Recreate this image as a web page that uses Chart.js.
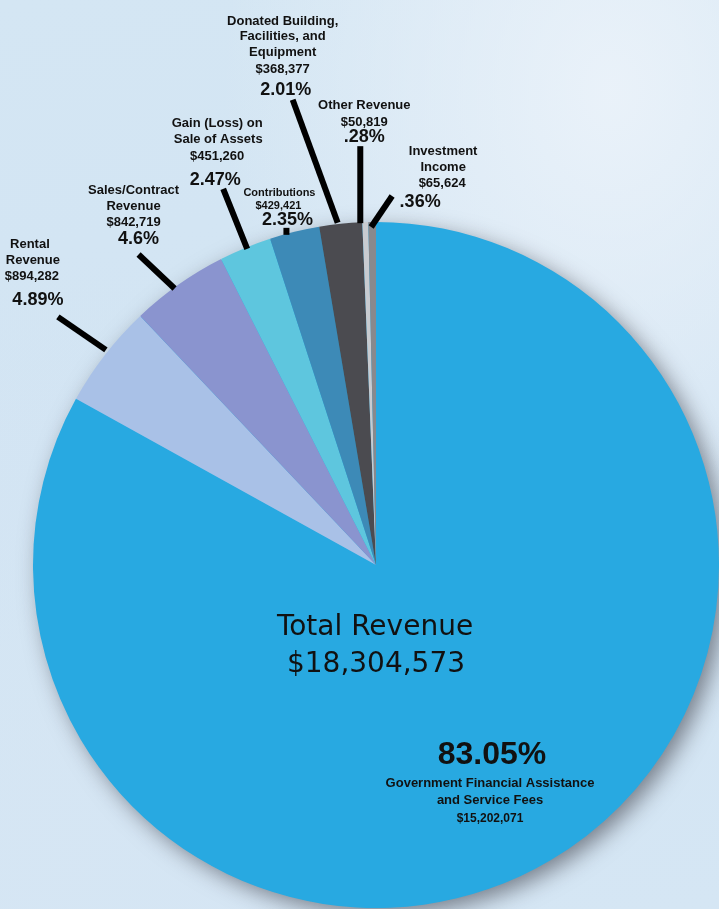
<!DOCTYPE html>
<html>
<head>
<meta charset="utf-8">
<script src="https://cdn.jsdelivr.net/npm/chart.js@4.4.1/dist/chart.umd.min.js"></script>
<style>
  html, body { margin: 0; padding: 0; }
  body {
    width: 719px; height: 909px; overflow: hidden;
    background:
      radial-gradient(ellipse at 85% 10%, rgba(236,243,250,0.9) 0%, rgba(236,243,250,0) 45%),
      radial-gradient(ellipse at 10% 95%, rgba(214,230,244,0.8) 0%, rgba(214,230,244,0) 50%),
      linear-gradient(170deg, #d4e6f3 0%, #d2e4f3 50%, #d5e6f4 100%);
  }
  canvas { display: block; }
</style>
</head>
<body>
<canvas id="c" width="719" height="909"></canvas>
<script>
// ---- data ----
const categories = [
  "Government Financial Assistance and Service Fees",
  "Rental Revenue",
  "Sales/Contract Revenue",
  "Gain (Loss) on Sale of Assets",
  "Contributions",
  "Donated Building, Facilities, and Equipment",
  "Other Revenue",
  "Investment Income"
];
const values = [15202071, 894282, 842719, 451260, 429421, 368377, 50819, 65624];
const percentLabels = ["83.05%", "4.89%", "4.6%", "2.47%", "2.35%", "2.01%", ".28%", ".36%"];
const amountLabels = ["$15,202,071", "$894,282", "$842,719", "$451,260", "$429,421", "$368,377", "$50,819", "$65,624"];
const nameLines = [
  ["Government Financial Assistance", "and Service Fees"],
  ["Rental", "Revenue"],
  ["Sales/Contract", "Revenue"],
  ["Gain (Loss) on", "Sale of Assets"],
  ["Contributions"],
  ["Donated Building,", "Facilities, and", "Equipment"],
  ["Other Revenue"],
  ["Investment", "Income"]
];
const totalTitle = "Total Revenue";
const totalAmount = "$18,304,573";
const colors = ["#28a9e1", "#a9c1e7", "#8a94cf", "#5ec6de", "#3d8ab7", "#4b4b50", "#c8cbd0", "#88898d"];

// ---- layout (label placement relative to each slice's outer-edge anchor) ----
const F = "'Liberation Sans', Arial, Helvetica, sans-serif";
const labelLayout = [
  null,
  { line: [1, -5, -47, -38], texts: [[-75, -110, 13], [-72, -94, 13], [-73, -78, 13], [-67, -55, 18]] },
  { line: [-4, 4, -40, -30], texts: [[-45, -94, 13], [-45, -78, 13], [-45, -62, 13], [-40, -45, 18]] },
  { line: [2, 1, -22, -59], texts: [[-28, -125, 13], [-27, -109, 13], [-28, -92, 13], [-30, -68, 18]] },
  { line: [-8, 3, -8, -4], texts: [[-15, -39, 11], [-16, -26, 11], [-7, -12, 18]] },
  { line: [-3, -1, -48, -124], texts: [[-58, -202, 13], [-58, -187, 13], [-58, -171, 13], [-58, -154, 13], [-55, -134, 18]] },
  { line: [-5, 1, -5, -76], texts: [[-1, -117, 13], [-1, -100, 13], [-1, -85, 18]] },
  { line: [-1, 5, 20, -26], texts: [[71, -71, 13], [71, -55, 13], [70, -39, 13], [48, -20, 18]] }
];

const shadowPlugin = {
  id: 'pieShadow',
  beforeDatasetsDraw(chart) {
    const arc = chart.getDatasetMeta(0).data[0];
    if (!arc) return;
    const ctx = chart.ctx;
    ctx.save();
    ctx.shadowColor = 'rgba(40,40,50,0.55)';
    ctx.shadowBlur = 22;
    ctx.shadowOffsetX = 7;
    ctx.shadowOffsetY = 7;
    ctx.fillStyle = colors[0];
    ctx.beginPath();
    ctx.arc(arc.x, arc.y, arc.outerRadius - 1, 0, Math.PI * 2);
    ctx.fill();
    ctx.restore();
  }
};

const labelPlugin = {
  id: 'pieLabels',
  afterDatasetsDraw(chart) {
    const meta = chart.getDatasetMeta(0);
    const ctx = chart.ctx;
    ctx.save();
    ctx.textAlign = 'center';
    ctx.textBaseline = 'middle';
    ctx.fillStyle = '#111';
    meta.data.forEach((arc, i) => {
      const lay = labelLayout[i];
      if (!lay) return;
      const mid = (arc.startAngle + arc.endAngle) / 2;
      const ax = arc.x + Math.cos(mid) * arc.outerRadius;
      const ay = arc.y + Math.sin(mid) * arc.outerRadius;
      ctx.strokeStyle = '#000';
      ctx.lineWidth = 6;
      ctx.lineCap = 'butt';
      ctx.beginPath();
      ctx.moveTo(ax + lay.line[0], ay + lay.line[1]);
      ctx.lineTo(ax + lay.line[2], ay + lay.line[3]);
      ctx.stroke();
      const strs = nameLines[i].concat([amountLabels[i], percentLabels[i]]);
      strs.forEach((s, k) => {
        const t = lay.texts[k];
        ctx.font = 'bold ' + t[2] + 'px ' + F;
        ctx.fillText(s, ax + t[0], ay + t[1]);
      });
    });
    // center texts
    const a0 = meta.data[0];
    const cx = a0.x, cy = a0.y;
    ctx.fillStyle = '#111';
    ctx.font = '28px "DejaVu Sans", sans-serif';
    ctx.fillText(totalTitle, cx - 1, cy + 63);
    ctx.fillText(totalAmount, cx, cy + 100);
    ctx.font = 'bold 32px ' + F;
    ctx.fillText(percentLabels[0], cx + 116, cy + 190);
    ctx.font = 'bold 13px ' + F;
    ctx.fillText(nameLines[0][0], cx + 114, cy + 218);
    ctx.fillText(nameLines[0][1], cx + 114, cy + 235);
    ctx.font = 'bold 12px ' + F;
    ctx.fillText(amountLabels[0], cx + 114, cy + 254);
    ctx.restore();
  }
};

new Chart(document.getElementById('c'), {
  type: 'pie',
  data: {
    labels: categories,
    datasets: [{
      data: values,
      backgroundColor: colors,
      borderWidth: 0
    }]
  },
  options: {
    responsive: false,
    animation: false,
    rotation: 0,
    layout: { padding: { left: 33, right: 0, top: 222, bottom: 1 } },
    plugins: {
      legend: { display: false },
      tooltip: { enabled: false },
      title: { display: false }
    },
    events: []
  },
  plugins: [shadowPlugin, labelPlugin]
});
</script>
</body>
</html>
